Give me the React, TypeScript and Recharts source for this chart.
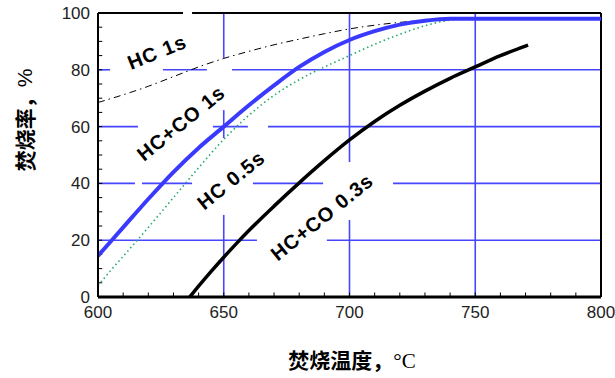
import React from 'react';
import { LineChart, Line, XAxis, YAxis, ReferenceLine, Customized } from 'recharts';

// 温度 (°C) 与 焚烧率 (%)
const hcCo1sTemp = [600, 610, 620, 630, 640, 650, 660, 670, 680, 690, 700, 710, 720, 730, 740, 750, 760, 770, 780, 790, 800];
const hcCo1sRate = [14.5, 24.5, 34.5, 44, 52.5, 60, 67.5, 74.5, 81, 86.3, 90.5, 93.6, 95.9, 97.3, 98, 98, 98, 98, 98, 98, 98];

const hc05sTemp = [600, 605, 610, 620, 630, 640, 650, 660, 670, 680, 690, 700, 710, 720, 730, 740, 750];
const hc05sRate = [4, 9.3, 14.3, 24.5, 35, 45.5, 55.5, 64, 71, 76.5, 81, 85, 89, 92.5, 95.5, 97.5, 98];

const hc1sTemp = [600, 610, 620, 630, 640, 650, 660, 670, 680, 690, 700, 710, 720, 730, 740];
const hc1sRate = [68.5, 71.2, 74.2, 77.6, 81, 84, 86.5, 88.8, 90.8, 92.7, 94.4, 95.7, 96.7, 97.4, 98];

const hcCo03sTemp = [636.5, 640, 645, 650, 655, 660, 670, 680, 690, 700, 710, 720, 730, 740, 750, 760, 771];
const hcCo03sRate = [0, 3.8, 9, 14, 18.8, 23.4, 32, 40.2, 48, 55.3, 61.8, 67.5, 72.5, 77, 81, 85, 88.7];

const xTicks = [600, 650, 700, 750, 800];
const yTicks = [0, 20, 40, 60, 80, 100];
const xMinorTicks = [610, 620, 630, 640, 650, 660, 670, 680, 690, 700, 710, 720, 730, 740, 750, 760, 770, 780, 790];
const yMinorTicks = [5, 10, 15, 20, 25, 30, 35, 40, 45, 50, 55, 60, 65, 70, 75, 80, 85, 90, 95];

// grid lines are broken where the curve labels sit
const gridH: { y: number; spans: number[][] }[] = [
  { y: 80, spans: [[600, 604.8], [625.8, 643.3], [653.3, 800]] },
  { y: 60, spans: [[600, 615.9], [645.7, 659.6], [667.6, 800]] },
  { y: 40, spans: [[600, 614.7], [617.5, 637.4], [661.6, 689.5], [717.3, 800]] },
  { y: 20, spans: [[600, 663.2], [691, 800]] },
];
const gridV: { x: number; spans: number[][] }[] = [
  { x: 650, spans: [[84.2, 100], [56, 65.8], [0, 28.9]] },
  { x: 700, spans: [[47.5, 100], [0, 27.1]] },
  { x: 750, spans: [[0, 100]] },
];

const toPoints = (t: number[], v: number[]) => t.map((x, i) => ({ t: x, v: v[i] }));

const GRID = '#4646ff';
const FONT = '"Liberation Sans", Arial, sans-serif';
const CJK = '"Noto Sans CJK SC", sans-serif';

const CurveLabels = () => {
  const st = { fontFamily: FONT, fontSize: 20, fontWeight: 700, letterSpacing: 1, fill: '#000' } as const;
  const items = [
    { text: 'HC 1s', x: 157, y: 52, a: -22 },
    { text: 'HC+CO 1s', x: 181, y: 123, a: -39 },
    { text: 'HC 0.5s', x: 231, y: 180, a: -39 },
    { text: 'HC+CO 0.3s', x: 322, y: 217, a: -39 },
  ];
  return (
    <g>
      {items.map((it) => (
        <text
          key={it.text}
          x={it.x}
          y={it.y}
          textAnchor="middle"
          dominantBaseline="central"
          transform={`rotate(${it.a} ${it.x} ${it.y})`}
          style={st}
        >
          {it.text}
        </text>
      ))}
      <text x={352} y={368} textAnchor="middle" style={{ fontFamily: CJK, fontSize: 21, fontWeight: 700, fill: '#000' }}>
        焚烧温度，
        <tspan style={{ fontFamily: '"Liberation Serif", serif', fontWeight: 400 }}>°C</tspan>
      </text>
      <text
        x={24}
        y={120}
        textAnchor="middle"
        dominantBaseline="central"
        transform="rotate(-90 24 120)"
        style={{ fontFamily: CJK, fontSize: 21, fontWeight: 700, fill: '#000' }}
      >
        焚烧率，
        <tspan style={{ fontFamily: FONT, fontWeight: 400 }}>%</tspan>
      </text>
    </g>
  );
};

export default function App() {
  const tickStyle = { fontSize: 17, fill: '#222', fontFamily: FONT };
  return (
    <div style={{ position: 'absolute', left: 0, top: 0, width: 615, height: 378, background: '#fff' }}>
      <LineChart width={615} height={378} margin={{ top: 13, right: 14, bottom: 0, left: 0 }}>
        <XAxis
          dataKey="t"
          type="number"
          domain={[600, 800]}
          ticks={xTicks}
          tickLine={false}
          tickMargin={3}
          height={81}
          axisLine={{ stroke: '#000', strokeWidth: 3 }}
          tick={tickStyle}
          allowDataOverflow
        />
        <YAxis
          type="number"
          domain={[0, 100]}
          ticks={yTicks}
          tickLine={false}
          width={98}
          axisLine={{ stroke: '#000', strokeWidth: 2 }}
          tick={tickStyle}
          allowDataOverflow
        />

        {gridH.flatMap((g) =>
          g.spans.map((s, i) => (
            <ReferenceLine
              key={`h${g.y}-${i}`}
              segment={[{ x: s[0], y: g.y }, { x: s[1], y: g.y }]}
              stroke={GRID}
              strokeWidth={1.6}
            />
          ))
        )}
        {gridV.flatMap((g) =>
          g.spans.map((s, i) => (
            <ReferenceLine
              key={`v${g.x}-${i}`}
              segment={[{ x: g.x, y: s[0] }, { x: g.x, y: s[1] }]}
              stroke={GRID}
              strokeWidth={1.6}
            />
          ))
        )}
        {xMinorTicks.map((v) => (
          <ReferenceLine key={`mx${v}`} segment={[{ x: v, y: 0 }, { x: v, y: 1.6 }]} stroke="#000" strokeWidth={1} />
        ))}
        {yMinorTicks.map((v) => (
          <ReferenceLine key={`my${v}`} segment={[{ x: 600, y: v }, { x: 601.7, y: v }]} stroke="#000" strokeWidth={1} />
        ))}
        <ReferenceLine segment={[{ x: 600, y: 100 }, { x: 633.8, y: 100 }]} stroke="#000" strokeWidth={2} />
        <ReferenceLine segment={[{ x: 637.4, y: 100 }, { x: 800, y: 100 }]} stroke="#000" strokeWidth={2} />
        <ReferenceLine x={800} stroke="#000" strokeWidth={2} />

        <Line
          data={toPoints(hc05sTemp, hc05sRate)}
          dataKey="v"
          type="monotone"
          stroke="#22aa66"
          strokeWidth={1.6}
          strokeDasharray="1.5 3"
          dot={false}
          isAnimationActive={false}
        />
        <Line
          data={toPoints(hc1sTemp, hc1sRate)}
          dataKey="v"
          type="monotone"
          stroke="#000"
          strokeWidth={1}
          strokeDasharray="7 4 1.5 4"
          dot={false}
          isAnimationActive={false}
        />
        <Line
          data={toPoints(hcCo1sTemp, hcCo1sRate)}
          dataKey="v"
          type="monotone"
          stroke="#3a3aff"
          strokeWidth={4}
          dot={false}
          isAnimationActive={false}
        />
        <Line
          data={toPoints(hcCo03sTemp, hcCo03sRate)}
          dataKey="v"
          type="monotone"
          stroke="#000"
          strokeWidth={3.5}
          dot={false}
          isAnimationActive={false}
        />
        <Customized component={<CurveLabels />} />
      </LineChart>
    </div>
  );
}
